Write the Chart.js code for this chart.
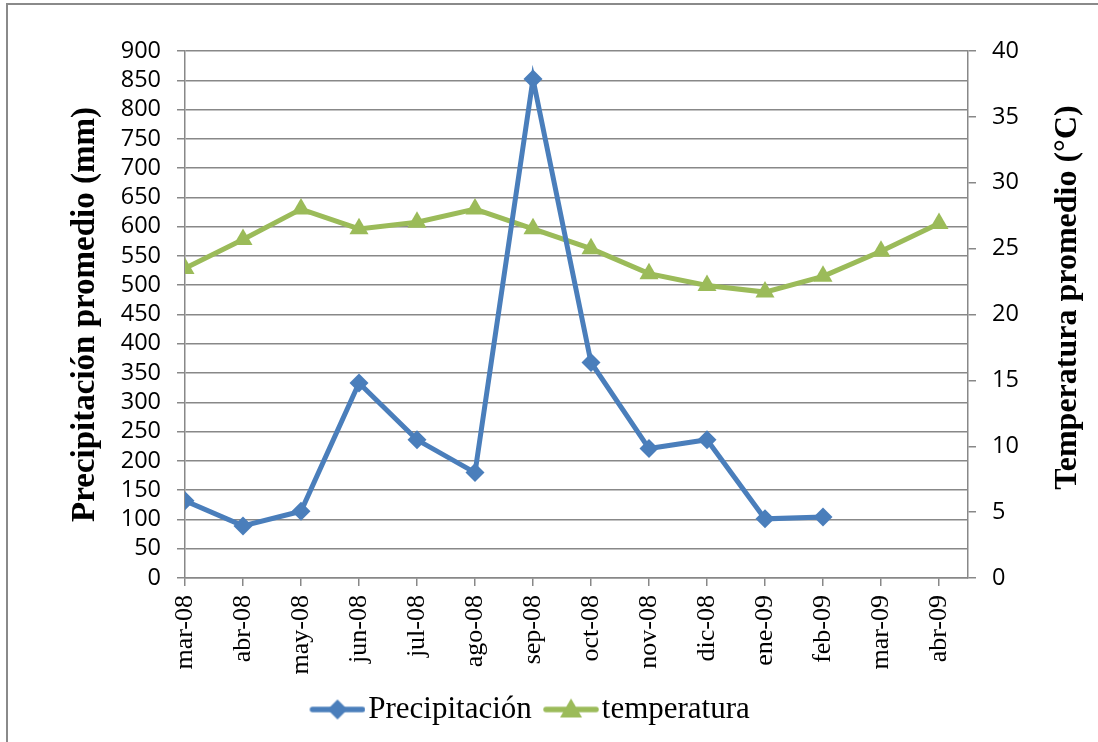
<!DOCTYPE html>
<html lang="es">
<head>
    <meta charset="UTF-8">
    <title>Precipitación y temperatura</title>
    <script src="https://cdn.jsdelivr.net/npm/chart.js"></script>
    <style>
        body {
            margin: 0;
            background: #FFFFFF;
        }
        .chart-box {
            position: relative;
            width: 1098px;
            height: 742px;
        }
    </style>
</head>
<body>
    <div class="chart-box">
        <canvas id="chart"></canvas>
    </div>
    <script>
        // data
        const months = ['mar-08', 'abr-08', 'may-08', 'jun-08', 'jul-08', 'ago-08', 'sep-08',
                        'oct-08', 'nov-08', 'dic-08', 'ene-09', 'feb-09', 'mar-09', 'abr-09'];
        const precipitacion = [132, 89, 114, 333, 236, 180, 852, 368, 221, 236, 101, 104, null, null];
        const temperatura = [23.5, 25.7, 28.0, 26.5, 27.0, 28.0, 26.5, 25.0, 23.1, 22.2, 21.7, 22.9, 24.8, 26.9];

        const BLUE = '#4A7EBB';
        const GREEN = '#9BBB59';
        const GRID = '#888888';

        // legend swatch: line with the marker in the middle, drawn on the right part of the canvas
        function swatch(color, shape) {
            const c = document.createElement('canvas');
            c.width = 70;
            c.height = 28;
            const g = c.getContext('2d');
            g.strokeStyle = color;
            g.lineWidth = 5.5;
            g.lineCap = 'round';
            g.beginPath();
            g.moveTo(17, 14);
            g.lineTo(67, 14);
            g.stroke();
            g.fillStyle = color;
            g.beginPath();
            if (shape === 'diamond') {
                g.moveTo(42, 4); g.lineTo(52, 14); g.lineTo(42, 24); g.lineTo(32, 14);
            } else {
                g.moveTo(42, 3); g.lineTo(53, 22); g.lineTo(31, 22);
            }
            g.closePath();
            g.fill();
            return c;
        }
        const swatches = [swatch(BLUE, 'diamond'), swatch(GREEN, 'triangle')];

        // frame, legend shift and right axis title (reads bottom to top like the left one)
        const decorations = {
            id: 'decorations',
            afterLayout(chart) {
                chart.legend.left -= 51;
                chart.legend.right -= 51;
            },
            beforeDraw(chart) {
                const ctx = chart.ctx;
                ctx.save();
                ctx.fillStyle = '#FFFFFF';
                ctx.fillRect(0, 0, chart.width, chart.height);
                ctx.strokeStyle = '#8A8A8A';
                ctx.lineWidth = 2;
                ctx.beginPath();
                ctx.moveTo(7, chart.height);
                ctx.lineTo(7, 4);
                ctx.lineTo(chart.width, 4);
                ctx.stroke();
                ctx.restore();
            },
            afterDraw(chart) {
                const ctx = chart.ctx;
                const area = chart.chartArea;
                ctx.save();
                ctx.translate(1068, (area.top + area.bottom) / 2 - 17);
                ctx.rotate(-Math.PI / 2);
                ctx.font = 'bold 32px "Liberation Serif"';
                ctx.fillStyle = '#000000';
                ctx.textAlign = 'center';
                ctx.textBaseline = 'middle';
                ctx.fillText('Temperatura promedio (°C)', 0, 0);
                ctx.restore();
            }
        };

        const ctx = document.getElementById('chart').getContext('2d');
        const chart = new Chart(ctx, {
            type: 'line',
            data: {
                datasets: [
                    {
                        label: 'Precipitación',
                        data: precipitacion.map((v, i) => ({ x: i, y: v })),
                        yAxisID: 'y',
                        borderColor: BLUE,
                        backgroundColor: BLUE,
                        borderWidth: 5,
                        pointStyle: 'rectRot',
                        pointRadius: 9.5,
                        pointBorderWidth: 0,
                        tension: 0
                    },
                    {
                        label: 'temperatura',
                        data: temperatura.map((v, i) => ({ x: i, y: v })),
                        yAxisID: 'y2',
                        borderColor: GREEN,
                        backgroundColor: GREEN,
                        borderWidth: 5,
                        pointStyle: 'triangle',
                        pointRadius: 11,
                        pointBorderWidth: 0,
                        tension: 0
                    }
                ]
            },
            options: {
                responsive: true,
                maintainAspectRatio: false,
                animation: false,
                layout: {
                    padding: { left: 62, top: 51, right: 0, bottom: 7 }
                },
                scales: {
                    x: {
                        type: 'linear',
                        min: 0,
                        max: 13.5,
                        afterFit(scale) { scale.height = 106; },
                        ticks: {
                            stepSize: 1,
                            includeBounds: false,
                            autoSkip: false,
                            maxRotation: 90,
                            minRotation: 90,
                            padding: 9,
                            color: '#000000',
                            font: { family: '"Liberation Serif"', size: 26 },
                            callback: (v) => months[v] || ''
                        },
                        grid: {
                            drawOnChartArea: false,
                            tickLength: 8,
                            color: GRID,
                            lineWidth: 1.5
                        },
                        border: { color: GRID, width: 1.5 }
                    },
                    y: {
                        position: 'left',
                        min: 0,
                        max: 900,
                        afterFit(scale) { scale.width = 123; },
                        ticks: {
                            stepSize: 50,
                            autoSkip: false,
                            padding: 16,
                            color: '#000000',
                            font: { family: '"Open Sans"', size: 23.5 }
                        },
                        grid: {
                            tickLength: 8,
                            color: GRID,
                            lineWidth: 1.5
                        },
                        border: { color: GRID, width: 1.5 },
                        title: {
                            display: true,
                            text: 'Precipitación promedio (mm)',
                            color: '#000000',
                            padding: { top: 4, bottom: 0 },
                            font: { family: '"Liberation Serif"', size: 33, weight: 'bold', lineHeight: 1.2 }
                        }
                    },
                    y2: {
                        position: 'right',
                        min: 0,
                        max: 40,
                        afterFit(scale) { scale.width = 130; },
                        ticks: {
                            stepSize: 5,
                            autoSkip: false,
                            padding: 16,
                            color: '#000000',
                            font: { family: '"Open Sans"', size: 23.5 }
                        },
                        grid: {
                            drawOnChartArea: false,
                            tickLength: 8,
                            color: GRID,
                            lineWidth: 1.5
                        },
                        border: { color: GRID, width: 1.5 }
                    }
                },
                plugins: {
                    tooltip: { enabled: false },
                    legend: {
                        position: 'bottom',
                        labels: {
                            usePointStyle: true,
                            pointStyleWidth: 44.5,
                            padding: 10,
                            color: '#000000',
                            font: { family: '"Liberation Serif"', size: 31 },
                            generateLabels(chart) {
                                const items = Chart.defaults.plugins.legend.labels.generateLabels(chart);
                                items.forEach((item, i) => { item.pointStyle = swatches[i]; });
                                return items;
                            }
                        }
                    }
                }
            },
            plugins: [decorations]
        });
    </script>
</body>
</html>
